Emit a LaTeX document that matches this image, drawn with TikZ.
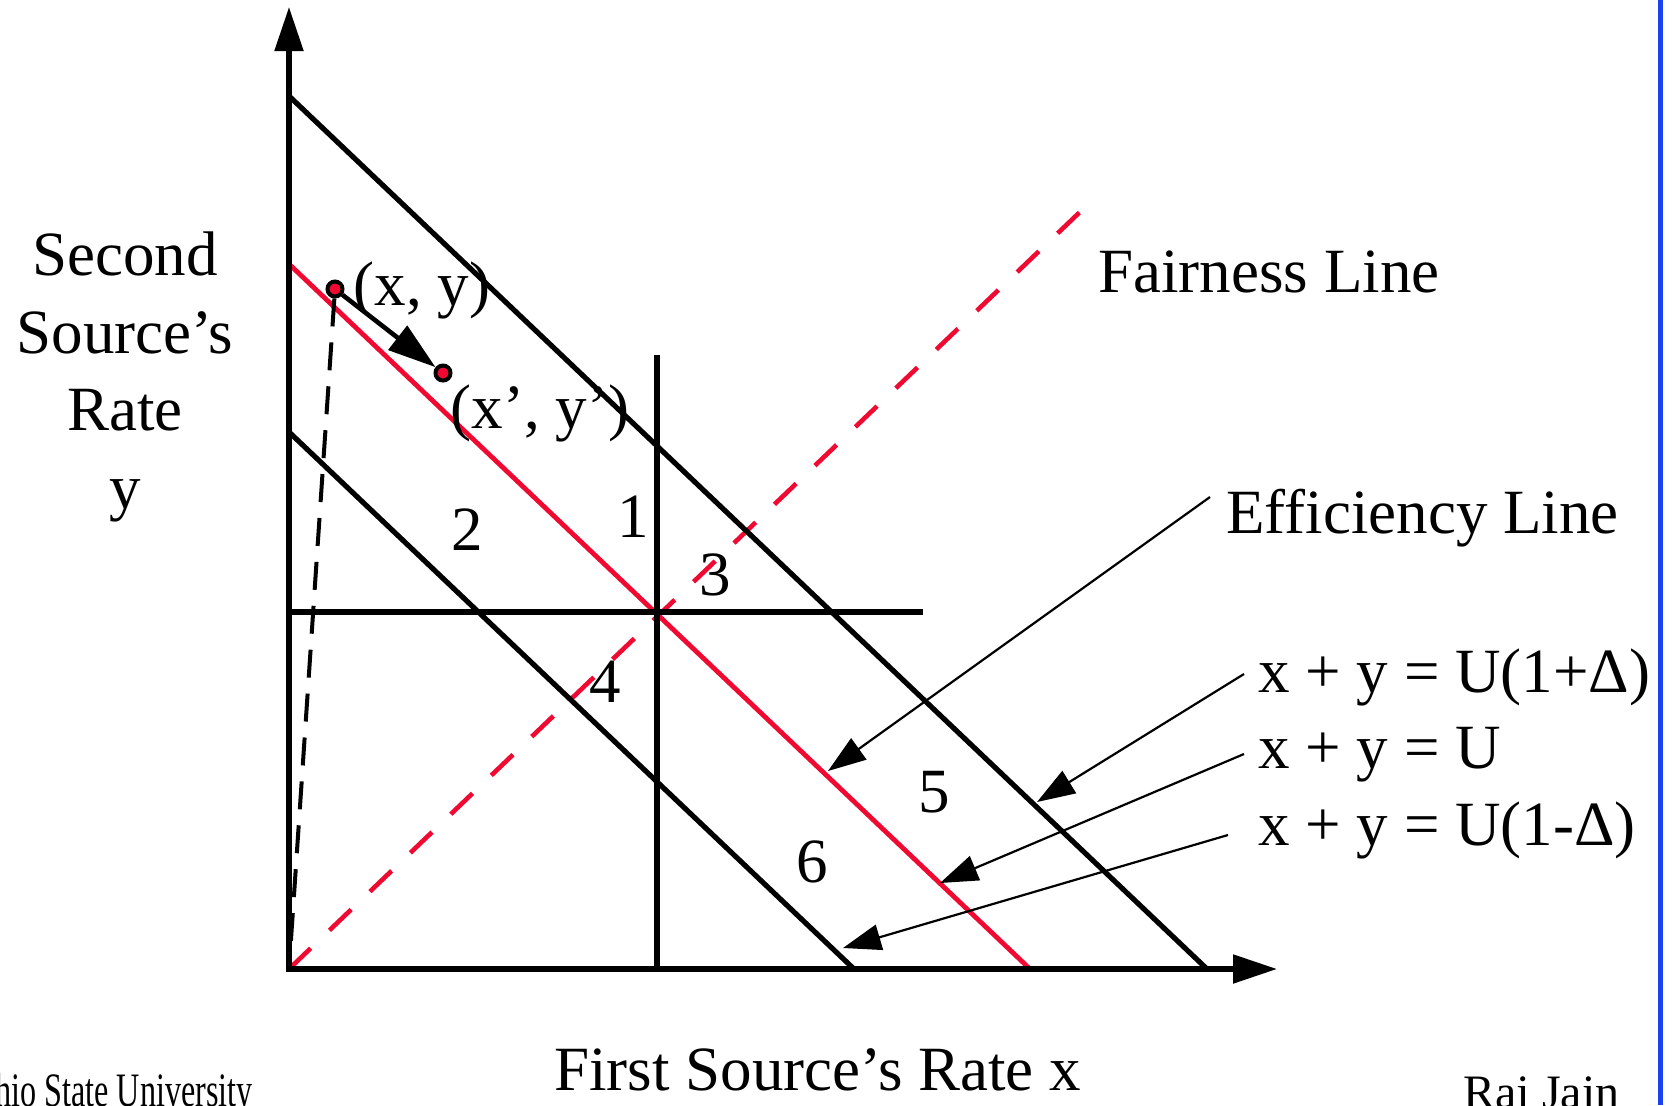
\documentclass[tikz,border=0pt]{standalone}
\usepackage{fontspec}
\setmainfont{Liberation Serif}
\usetikzlibrary{arrows.meta}
\definecolor{lred}{RGB}{240,10,50}
\definecolor{lblue}{RGB}{25,65,240}
\begin{document}
\begin{tikzpicture}[x=0.5pt,y=-0.5pt,
  lbl/.style={inner sep=0pt, font=\fontsize{31.5}{38}\selectfont},
  foot/.style={inner sep=0pt, font=\fontsize{24}{28}\selectfont},
  axisline/.style={line width=2.6pt, {Triangle[length=22pt,width=14pt]}-{Triangle[length=22pt,width=14pt]}},
  bline/.style={line width=2.6pt},
  rline/.style={line width=2.4pt, draw=lred},
  fairline/.style={line width=2.3pt, draw=lred, dash pattern=on 15pt off 13pt},
  dropline/.style={line width=2pt, dash pattern=on 14pt off 8pt},
  pointer/.style={line width=1.1pt, -{Triangle[length=19pt,width=13pt]}},
  movearrow/.style={line width=2.3pt, -{Triangle[length=24pt,width=15pt]}},
  dot/.style={circle, draw=black, fill=lred, line width=2pt, minimum size=7.5pt, inner sep=0pt}
]
\useasboundingbox (0,0) rectangle (1672,1105);
% coordinates
\coordinate (O) at (289,969);
\coordinate (ytip) at (289,7);
\coordinate (xtip) at (1277,969);
\coordinate (a1) at (289,96);
\coordinate (a2) at (1207,969);
\coordinate (r1) at (289,264);
\coordinate (r2) at (1030,969);
\coordinate (c1) at (289,432);
\coordinate (c2) at (854,969);
\coordinate (f2) at (1082,210);
\coordinate (vt) at (657,355);
\coordinate (vb) at (657,969);
\coordinate (hl) at (286,612);
\coordinate (hr) at (923,612);
\coordinate (effS) at (1210,497);
\coordinate (effT) at (828,771);
\coordinate (upS) at (1244,674);
\coordinate (upT) at (1037,802);
\coordinate (uS) at (1244,754);
\coordinate (uT) at (940,883);
\coordinate (udS) at (1228,835);
\coordinate (udT) at (843,948);
% fairness line
\draw[fairline] (O) -- (f2);
% lines
\draw[bline] (a1) -- (a2);
\draw[bline] (c1) -- (c2);
\draw[rline] (r1) -- (r2);
\draw[bline] (vt) -- (vb);
\draw[bline] (hl) -- (hr);
% axes
\draw[axisline] (ytip) -- (O) -- (xtip);
% points
\node[dot] (pxy) at (335,289) {};
\node[dot] (pxy2) at (443,373) {};
\draw[dropline] (pxy) -- (O);
\draw[movearrow] (pxy) -- (pxy2);
% labels
\node[lbl] (lxy) at (422,290) {(x, y)};
\node[lbl] (lxy2) at (540,413) {(x’, y’)};
\node[lbl] (n1) at (633,517) {1};
\node[lbl] (n2) at (467,530) {2};
\node[lbl] (n3) at (715,575) {3};
\node[lbl] (n4) at (605,682) {4};
\node[lbl] (n5) at (934,792) {5};
\node[lbl] (n6) at (812,862) {6};
\node[lbl, anchor=base west] (fair) at (1098,292) {Fairness Line};
\node[lbl, anchor=base west] (eff) at (1226,533) {Efficiency Line};
\node[lbl, anchor=base west] (eq1) at (1258,692) {x + y = U(1+Δ)};
\node[lbl, anchor=base west] (eq2) at (1258,768) {x + y = U};
\node[lbl, anchor=base west] (eq3) at (1258,845) {x + y = U(1-Δ)};
\node[lbl, anchor=base] (yl1) at (125,275) {Second};
\node[lbl, anchor=base] (yl2) at (125,353) {Source’s};
\node[lbl, anchor=base] (yl3) at (125,430) {Rate};
\node[lbl, anchor=base] (yl4) at (125,508) {y};
\node[lbl, anchor=base west] (xl) at (554,1090) {First Source’s Rate x};
\node[foot, anchor=base east] (osu) at (253,1106) {\scalebox{0.67}[1]{Ohio State University}};
\node[foot, anchor=base west] (raj) at (1463,1108) {Raj Jain};
% pointers
\draw[pointer] (effS) -- (effT);
\draw[pointer] (upS) -- (upT);
\draw[pointer] (uS) -- (uT);
\draw[pointer] (udS) -- (udT);
% right border
\draw[lblue, line width=2.5pt] (1660.5,0) -- (1660.5,1105);
\end{tikzpicture}
\end{document}
